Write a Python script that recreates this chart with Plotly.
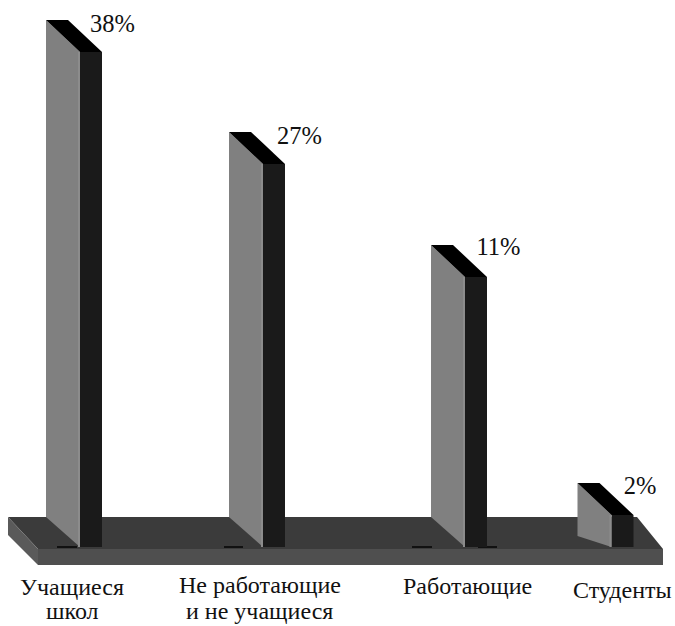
import plotly.graph_objects as go

category_lines = [["Учащиеся", "школ"], ["Не работающие", "и не учащиеся"], ["Работающие"], ["Студенты"]]
percent_labels = ["38%", "27%", "11%", "2%"]
bar_heights = [495, 383, 270, 32]
side_foot = [30, 30, 30, 11]

bar_left = [80, 263, 465, 611.5]
label_x = [72, 259.5, 467, 622.5]
label_center_y = [[-40, -64], [-38, -64], [-39], [-43]]
pct_x = [112.5, 299.5, 498.5, 640]
pct_offset = [-6, -6, -4, -5]
BAR_W = 22
DX, DY = 34, 32
FONT = "Liberation Serif"

fig = go.Figure()

centers = [x + BAR_W / 2 for x in bar_left]
fig.add_trace(go.Bar(x=centers, y=bar_heights, width=BAR_W, marker=dict(color="#1a1a1a", line=dict(width=0)),
                     showlegend=False, hoverinfo="skip"))

for x, h, foot in zip(bar_left, bar_heights, side_foot):
    fig.add_trace(go.Scatter(x=[x - DX, x, x, x - DX, x - DX], y=[h + DY, h, 0, foot, h + DY], mode="lines",
                             fill="toself", fillcolor="#808080", line=dict(width=0), showlegend=False, hoverinfo="skip"))
    fig.add_trace(go.Scatter(x=[x - 1, x - 1], y=[h, 0], mode="lines", line=dict(width=2, color="#8c8c8c"),
                             showlegend=False, hoverinfo="skip"))
    fig.add_trace(go.Scatter(x=[x - DX, x - DX + BAR_W, x + BAR_W, x, x - DX], y=[h + DY, h + DY, h, h, h + DY],
                             mode="lines", fill="toself", fillcolor="#000000", line=dict(width=0), showlegend=False,
                             hoverinfo="skip"))

fig.add_trace(go.Scatter(x=pct_x, y=[h + DY + o for h, o in zip(bar_heights, pct_offset)], mode="text", text=percent_labels,
                         textposition="middle center", textfont=dict(family=FONT, size=24.5, color="#111111"),
                         showlegend=False, hoverinfo="skip"))
for x, ys, lines in zip(label_x, label_center_y, category_lines):
    for y, line in zip(ys, lines):
        fig.add_annotation(x=x, y=y, text=line, showarrow=False, yanchor="middle", xanchor="center",
                           font=dict(family=FONT, size=24, color="#111111"), align="center")

floor = [
    ("M 8 30 L 637 30 L 663 -2 L 38 -2 Z", "#3b3b3b"),
    ("M 38 -2 L 663 -2 L 663 -18 L 38 -18 Z", "#4f4f4f"),
    ("M 8 30 L 38 -2 L 38 -18 L 8 12 Z", "#5a5a5a"),
]
shapes = [dict(type="path", path=p, fillcolor=c, line=dict(width=0), layer="below") for p, c in floor]
for a, b in [(57, 77), (224, 243), (412, 432), (478, 497)]:
    shapes.append(dict(type="rect", x0=a, x1=b, y0=-1, y1=1, fillcolor="#111111", line=dict(width=0), layer="below"))

fig.update_layout(
    width=675, height=626, margin=dict(l=0, r=0, t=0, b=0), paper_bgcolor="white", plot_bgcolor="white",
    xaxis=dict(range=[0, 675], visible=False, fixedrange=True),
    yaxis=dict(range=[-79, 547], visible=False, fixedrange=True),
    shapes=shapes, showlegend=False,
)
fig.write_html("out.html", config=dict(displayModeBar=False), post_script="document.body.style.margin='0';")
